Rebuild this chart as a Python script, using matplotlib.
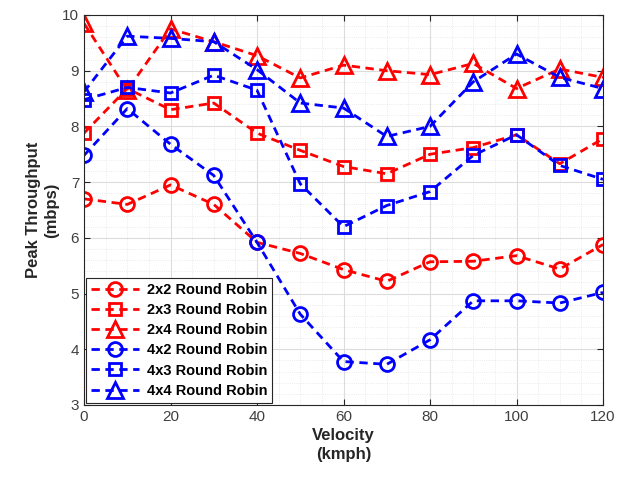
import matplotlib
matplotlib.use("Agg")
import matplotlib.pyplot as plt
from matplotlib.ticker import MultipleLocator

plt.rcParams['font.family'] = ['Liberation Sans', 'DejaVu Sans']

velocity = [0, 10, 20, 30, 40, 50, 60, 70, 80, 90, 100, 110, 120]
rr_2x2 = [6.70, 6.60, 6.95, 6.60, 5.92, 5.72, 5.43, 5.22, 5.57, 5.58, 5.68, 5.44, 5.88]
rr_2x3 = [7.88, 8.68, 8.30, 8.42, 7.88, 7.57, 7.28, 7.15, 7.50, 7.62, 7.85, 7.33, 7.78]
rr_2x4 = [9.85, 8.65, 9.75, 9.52, 9.27, 8.87, 9.10, 9.00, 8.93, 9.13, 8.68, 9.03, 8.88]
rr_4x2 = [7.48, 8.32, 7.68, 7.12, 5.92, 4.63, 3.78, 3.73, 4.17, 4.87, 4.87, 4.83, 5.02]
rr_4x3 = [8.48, 8.70, 8.60, 8.92, 8.65, 6.97, 6.20, 6.58, 6.83, 7.48, 7.85, 7.30, 7.05]
rr_4x4 = [8.62, 9.62, 9.58, 9.52, 9.02, 8.42, 8.33, 7.82, 8.00, 8.80, 9.30, 8.88, 8.68]

labels = ['2x2 Round Robin', '2x3 Round Robin', '2x4 Round Robin',
          '4x2 Round Robin', '4x3 Round Robin', '4x4 Round Robin']
series = [rr_2x2, rr_2x3, rr_2x4, rr_4x2, rr_4x3, rr_4x4]
colors = ['#ff0000'] * 3 + ['#0000ff'] * 3
markers = ['o', 's', '^', 'o', 's', '^']

fig = plt.figure(figsize=(6.25, 4.79), dpi=100)
ax = fig.add_axes([0.1344, 0.1545, 0.8304, 0.8142])

for y, lab, c, m in zip(series, labels, colors, markers):
    ms = {'o': 10, 's': 8.5, '^': 11}[m]
    ax.plot(velocity, y, linestyle=(0, (3, 2)), color=c, linewidth=2,
            marker=m, markersize=ms, markerfacecolor='none',
            markeredgewidth=2, label=lab)

ax.set_xlim(0, 120)
ax.set_ylim(3, 10)
ax.xaxis.set_major_locator(MultipleLocator(20))
ax.yaxis.set_major_locator(MultipleLocator(1))
ax.xaxis.set_minor_locator(MultipleLocator(5))
ax.yaxis.set_minor_locator(MultipleLocator(0.2))
ax.grid(which='major', color='#dcdcdc', linewidth=0.8)
ax.grid(which='minor', color='#e4e4e4', linewidth=0.6, linestyle=':')
ax.set_axisbelow(True)
ax.tick_params(which='both', direction='in', top=True, right=True,
               labelsize=11, colors='#262626', length=4)
ax.tick_params(which='minor', length=0)
for lbl in ax.get_xticklabels() + ax.get_yticklabels():
    lbl.set_color('#404040')
for s in ax.spines.values():
    s.set_color('#262626')
    s.set_linewidth(0.8)

ax.set_xlabel('Velocity\n(kmph)', fontsize=12, fontweight='bold', color='#262626',
              linespacing=1.3, labelpad=3)
ax.set_ylabel('Peak Throughput\n(mbps)', fontsize=12, fontweight='bold', color='#262626',
              linespacing=1.3, labelpad=2)

leg = ax.legend(loc='lower left', prop={'weight': 'bold', 'size': 10.5},
                fancybox=False, framealpha=1, edgecolor='#262626',
                borderaxespad=0.15, handlelength=3.3, labelspacing=0.42,
                borderpad=0.35, handletextpad=0.5)
leg.get_frame().set_linewidth(0.8)

fig.savefig('out.png', dpi=100)
